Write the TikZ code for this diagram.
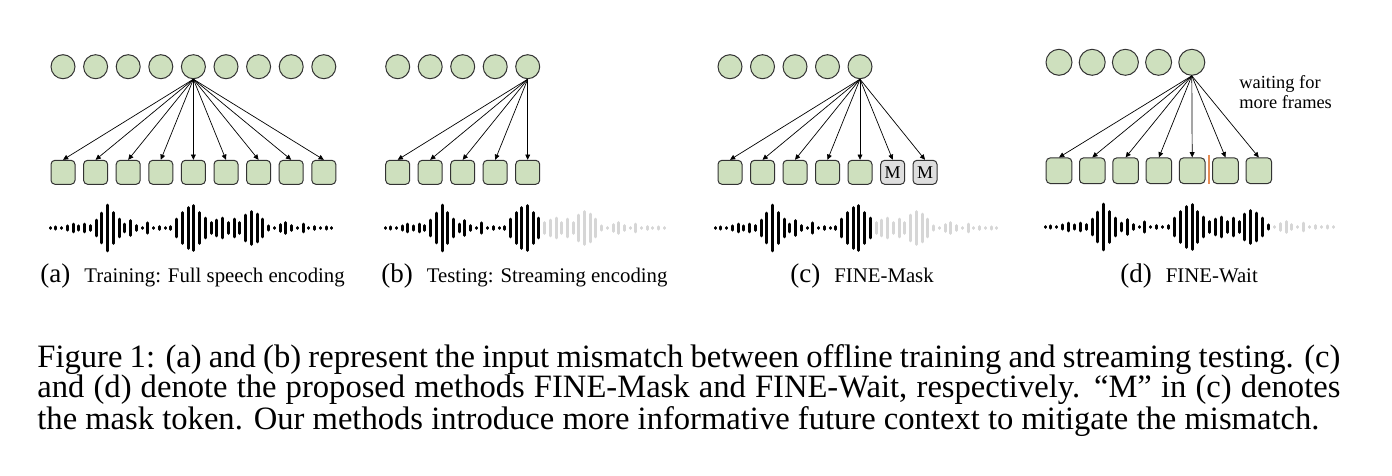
\documentclass[tikz,border=0pt]{standalone}
\usepackage{fontspec}
\setmainfont{Liberation Serif}
\usetikzlibrary{positioning,arrows.meta}

\definecolor{framegreen}{RGB}{206,224,190}
\definecolor{maskgray}{RGB}{222,222,222}
\definecolor{wavegray}{RGB}{214,214,214}
\definecolor{waitorange}{RGB}{228,140,84}

% speech wave: #1 = x start, #2 = y centre, #3 = last black bar, #4 = bar pitch
\newcommand{\speechwave}[4]{%
  \foreach \h [count=\i] in {3,4.7,3,6.7,10,6.7,10,7.3,18,32,48,33,20,10,17,7.3,3.3,12.7,3.3,5.3,
                             3.3,5.3,20,33,43,47,33,22,13,18,22,13,20,13,28,35,30,20,6.7,3,
                             9.3,13,7.3,3,10,3,5.3,3,4.7,3}{
    \ifnum\i>#3 \def\wcol{wavegray}\else\def\wcol{black}\fi
    \draw[\wcol, line width=1.5pt, line cap=round]
      ({#1+(\i-1)*#4},{#2-\h/2+1.2}) -- ({#1+(\i-1)*#4},{#2+\h/2-1.2});
  }%
}

\begin{document}
\begin{tikzpicture}
[x=0.5pt, y=-0.5pt,
    frame/.style={circle, draw=black!80, fill=framegreen,
        line width=0.5pt, minimum size=12pt, inner sep=0pt},
    enc/.style={rectangle, rounded corners=2pt, draw=black!80, fill=framegreen,
        line width=0.5pt, minimum size=12pt, inner sep=0pt},
    masktok/.style={enc, fill=maskgray, font=\fontsize{9}{9}\selectfont},
    feed/.style={-{Triangle[length=2.6pt,width=2.4pt]}, line width=0.35pt},
    sublabel/.style={anchor=base west, inner sep=0pt, font=\fontsize{10.4}{12}\selectfont},
    ]
    \useasboundingbox (0,0) rectangle (1392,476);

    % (a) training: full speech encoding
    \foreach \i in {1,...,9} {
        \node[frame] (fa\i) at ({63+(\i-1)*32.6},66.7) {};
        \node[enc] (ea\i) at ({63+(\i-1)*32.6},172.3) {};
    }
    \foreach \i in {1,...,9}
        \draw[feed] (fa5.south) -- (ea\i.north);
    \speechwave{50}{228}{50}{5.75}
    \node[sublabel] (laba) at (40,282)
        {{\fontsize{13.5}{14}\selectfont (a)}\hspace{7pt}Training: Full speech encoding};

    % (b) testing: streaming encoding
    \foreach \i in {1,...,5} {
        \node[frame] (fb\i) at ({397.7+(\i-1)*32.5},66.7) {};
        \node[enc] (eb\i) at ({397.7+(\i-1)*32.5},172.3) {};
    }
    \foreach \i in {1,...,5}
        \draw[feed] (fb5.south) -- (eb\i.north);
    \speechwave{385}{228}{28}{5.7}
    \node[sublabel] (labb) at (381,282)
        {{\fontsize{13.5}{14}\selectfont (b)}\hspace{7pt}Testing: Streaming encoding};

    % (c) FINE-Mask
    \foreach \i in {1,...,5}
        \node[frame] (fc\i) at ({730+(\i-1)*32.5},66.7) {};
    \foreach \i in {1,...,5}
        \node[enc] (ec\i) at ({730+(\i-1)*32.5},172.3) {};
    \node[masktok] (ec6) at (892.7,172.3) {M};
    \node[masktok] (ec7) at (925,172.3) {M};
    \foreach \i in {1,...,7}
        \draw[feed] (fc5.south) -- (ec\i.north);
    \speechwave{715}{228}{28}{5.75}
    \node[sublabel] (labc) at (790,282)
        {{\fontsize{13.5}{14}\selectfont (c)}\hspace{7pt}FINE-Mask};

    % (d) FINE-Wait
    \foreach \i in {1,...,5}
        \node[frame, minimum size=13pt] (fd\i) at ({1059+(\i-1)*33.2},62.3) {};
    \foreach \i in {1,...,7}
        \node[enc, minimum size=12.8pt] (ed\i) at ({1059+(\i-1)*33.3},170.7) {};
    \foreach \i in {1,...,7}
        \draw[feed] (fd5.south) -- (ed\i.north);
    \coordinate (cuttop) at (1209,155);
    \coordinate (cutbot) at (1209,184);
    \draw[waitorange, line width=0.6pt] (cuttop) -- (cutbot);
    \node[anchor=base west, inner sep=0pt, align=left,
          font=\fontsize{9.2}{10}\selectfont] (waitnote) at (1239,108.3)
        {waiting for\\more frames};
    \speechwave{1045}{227}{39}{5.88}
    \node[sublabel] (labd) at (1120,282)
        {{\fontsize{13.5}{14}\selectfont (d)}\hspace{7pt}FINE-Wait};

    % figure caption
    \node[anchor=north west, inner sep=0pt, text width=651.5pt, align=justify,
          font=\fontsize{16.3}{14.9}\selectfont] (caption) at (37,344)
        {Figure 1: (a) and (b) represent the input mismatch between offline training and streaming testing. (c)\linebreak
         and (d) denote the proposed methods FINE-Mask and FINE-Wait, respectively. ``M'' in (c) denotes\linebreak
         the mask token. Our methods introduce more informative future context to mitigate the mismatch.};

\end{tikzpicture}
\end{document}
